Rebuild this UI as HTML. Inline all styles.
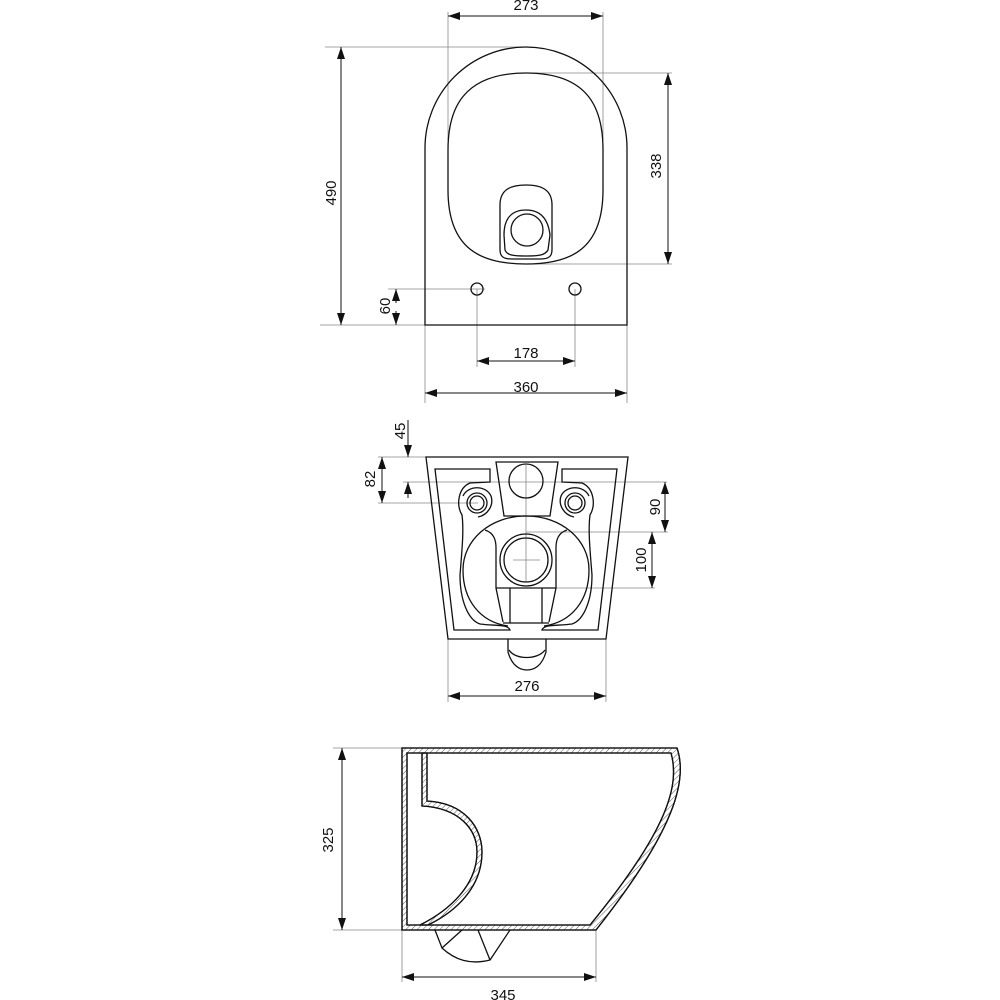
<!DOCTYPE html>
<html><head><meta charset="utf-8"><style>
html,body{margin:0;padding:0;background:#fff;}
svg{display:block;}
text{font-family:"Liberation Sans",sans-serif;font-size:15px;fill:#111;}
</style></head><body>
<svg width="1000" height="1000" viewBox="0 0 1000 1000" xmlns="http://www.w3.org/2000/svg">
<defs>
<marker id="a" viewBox="0 0 12 8" refX="12" refY="4" markerWidth="12" markerHeight="8" markerUnits="userSpaceOnUse" orient="auto-start-reverse"><path d="M0,0 L12,4 L0,8 z" fill="#111"/></marker>
<pattern id="h" width="4" height="4" patternUnits="userSpaceOnUse" patternTransform="rotate(45)"><line x1="0" y1="0" x2="0" y2="4" stroke="#333" stroke-width="0.8"/></pattern>
</defs>
<g fill="none" stroke="#888" stroke-width="0.8">
<line x1="448" y1="12" x2="448" y2="140"/><line x1="603" y1="12" x2="603" y2="140"/>
<line x1="325" y1="47" x2="526" y2="47"/><line x1="320" y1="325" x2="425" y2="325"/>
<line x1="526" y1="73" x2="672" y2="73"/><line x1="526" y1="264" x2="672" y2="264"/>
<line x1="388" y1="289" x2="485" y2="289"/>
<line x1="477" y1="289" x2="477" y2="367"/><line x1="575" y1="289" x2="575" y2="367"/>
<line x1="425" y1="325" x2="425" y2="403"/><line x1="627" y1="325" x2="627" y2="403"/>
<line x1="403" y1="482" x2="667" y2="482"/>
<line x1="378" y1="457" x2="426" y2="457"/><line x1="378" y1="503" x2="478" y2="503"/>
<line x1="526" y1="532" x2="668" y2="532"/><line x1="526" y1="588" x2="655" y2="588"/>
<line x1="526" y1="465" x2="526" y2="582"/><line x1="513" y1="560" x2="540" y2="560"/>
<line x1="448" y1="639" x2="448" y2="702"/><line x1="606" y1="639" x2="606" y2="702"/>
<line x1="333" y1="748" x2="402" y2="748"/><line x1="333" y1="930" x2="402" y2="930"/>
<line x1="402" y1="930" x2="402" y2="982"/><line x1="596" y1="930" x2="596" y2="982"/>
</g>
<g fill="none" stroke="#111" stroke-width="1" >
<line x1="448" y1="16" x2="603" y2="16" marker-start="url(#a)" marker-end="url(#a)"/>
<line x1="341" y1="47" x2="341" y2="325" marker-start="url(#a)" marker-end="url(#a)"/>
<line x1="668" y1="73" x2="668" y2="264" marker-start="url(#a)" marker-end="url(#a)"/>
<line x1="396" y1="289" x2="396" y2="303" marker-start="url(#a)"/>
<line x1="396" y1="311" x2="396" y2="325" marker-end="url(#a)"/>
<line x1="477" y1="361" x2="575" y2="361" marker-start="url(#a)" marker-end="url(#a)"/>
<line x1="425" y1="393" x2="627" y2="393" marker-start="url(#a)" marker-end="url(#a)"/>
<line x1="408" y1="420" x2="408" y2="457" marker-end="url(#a)"/>
<line x1="408" y1="482" x2="408" y2="498" marker-start="url(#a)"/>
<line x1="382" y1="457" x2="382" y2="503" marker-start="url(#a)" marker-end="url(#a)"/>
<line x1="665" y1="482" x2="665" y2="532" marker-start="url(#a)" marker-end="url(#a)"/>
<line x1="652" y1="532" x2="652" y2="588" marker-start="url(#a)" marker-end="url(#a)"/>
<line x1="448" y1="696" x2="606" y2="696" marker-start="url(#a)" marker-end="url(#a)"/>
<line x1="342" y1="748" x2="342" y2="930" marker-start="url(#a)" marker-end="url(#a)"/>
<line x1="402" y1="977" x2="596" y2="977" marker-start="url(#a)" marker-end="url(#a)"/>
</g>
<g fill="none" stroke="#111" stroke-width="1.3">
<path d="M425,325 L425,148 A101,101 0 0 1 627,148 L627,325 Z"/>
<path d="M526,73 C590,73 603,110 603,150 L603,190 C603,250 570,264 526,264 C482,264 448,250 448,190 L448,150 C448,110 462,73 526,73 Z"/>
<path d="M500,205 C500,190 510,185 526,185 C542,185 552,190 552,205 L552,250 C552,257 548,259 540,259 L512,259 C504,259 500,257 500,250 Z"/>
<path d="M504,235 C504,218 512,210 526,210 C540,210 548,218 550,235 L548,250 C545,255 540,256 526,256 C512,256 507,255 505,250 Z"/>
<circle cx="527" cy="230" r="16"/>
<circle cx="477" cy="289" r="6"/><circle cx="575" cy="289" r="6"/>
<path d="M426,457 L628,457 L606,639 L448,639 Z"/>
<path d="M435,469 L490,469 L490,482 L470,483 C458,488 456,505 462,515 C464,530 462,550 460,575 C460,600 468,620 480,624 C495,626 508,624 510,630 L454,630 Z"/>
<path d="M617,469 L562,469 L562,482 L582,483 C594,488 596,505 590,515 C588,530 590,550 592,575 C592,600 584,620 572,624 C557,626 544,624 542,630 L598,630 Z"/>
<path d="M496,462 L558,462 L550,516 L504,516 Z"/>
<circle cx="526" cy="481" r="17"/>
<circle cx="477" cy="503" r="10"/><circle cx="477" cy="503" r="7"/>
<circle cx="575" cy="503" r="10"/><circle cx="575" cy="503" r="7"/>
<path d="M463,496 C468,485 486,485 491,496 C494,505 488,515 478,517"/>
<path d="M589,496 C584,485 566,485 561,496 C558,505 564,515 574,517"/>
<path d="M508,626 C480,622 463,600 463,570 C463,540 490,516 526,516 C562,516 589,540 589,570 C589,600 572,622 544,626"/>
<path d="M485,530 C494,533 496,540 496,548 L496,588 L503,622"/>
<path d="M567,530 C558,533 556,540 556,548 L556,588 L549,622"/>
<line x1="496" y1="588" x2="556" y2="588"/>
<line x1="510" y1="588" x2="510" y2="623"/><line x1="542" y1="588" x2="542" y2="623"/>
<line x1="503" y1="623" x2="549" y2="623"/>
<circle cx="526" cy="560" r="26"/><circle cx="526" cy="560" r="22"/>
<path d="M508,639 L508,652 C512,666 520,670 527,670 C534,670 542,666 546,652 L546,639"/>
<path d="M509,650 C515,660 538,660 545,650"/>
<!-- bottom view -->
<path fill="url(#h)" fill-rule="evenodd" d="M402,748 L677,748 C688,780 675,830 596,930 L402,930 Z M407,753 L671,753 C680,785 668,830 590,925 L407,925 Z"/>
<path fill="url(#h)" d="M422,753 L427,753 L427,801 C465,803 482,828 482,852 C482,888 455,912 428,925 L420,925 C450,910 477,885 477,852 C477,830 460,808 422,806 Z"/>
<path d="M402,748 L677,748 C688,780 675,830 596,930 L402,930 Z"/>
<path d="M407,753 L671,753 C680,785 668,830 590,925 L407,925 Z"/>
<path d="M422,753 L422,806 C460,808 477,830 477,852 C477,885 450,910 420,925"/>
<path d="M427,753 L427,801 C465,803 482,828 482,852 C482,888 455,912 428,925"/>
<path d="M435,930 L442,948 C455,960 470,965 490,960 L510,930"/>
<line x1="442" y1="948" x2="462" y2="930"/><line x1="490" y1="960" x2="478" y2="930"/>
</g>
<g>
<text x="526" y="10" text-anchor="middle">273</text>
<text x="526" y="358" text-anchor="middle">178</text>
<text x="526" y="392" text-anchor="middle">360</text>
<text transform="translate(336,193) rotate(-90)" text-anchor="middle">490</text>
<text transform="translate(661,166) rotate(-90)" text-anchor="middle">338</text>
<text transform="translate(390,306) rotate(-90)" text-anchor="middle">60</text>
<text transform="translate(405,431) rotate(-90)" text-anchor="middle">45</text>
<text transform="translate(375,479) rotate(-90)" text-anchor="middle">82</text>
<text transform="translate(660,507) rotate(-90)" text-anchor="middle">90</text>
<text transform="translate(646,560) rotate(-90)" text-anchor="middle">100</text>
<text x="527" y="691" text-anchor="middle">276</text>
<text transform="translate(333,840) rotate(-90)" text-anchor="middle">325</text>
<text x="503" y="1000" text-anchor="middle">345</text>
</g>
</svg>
</body></html>
